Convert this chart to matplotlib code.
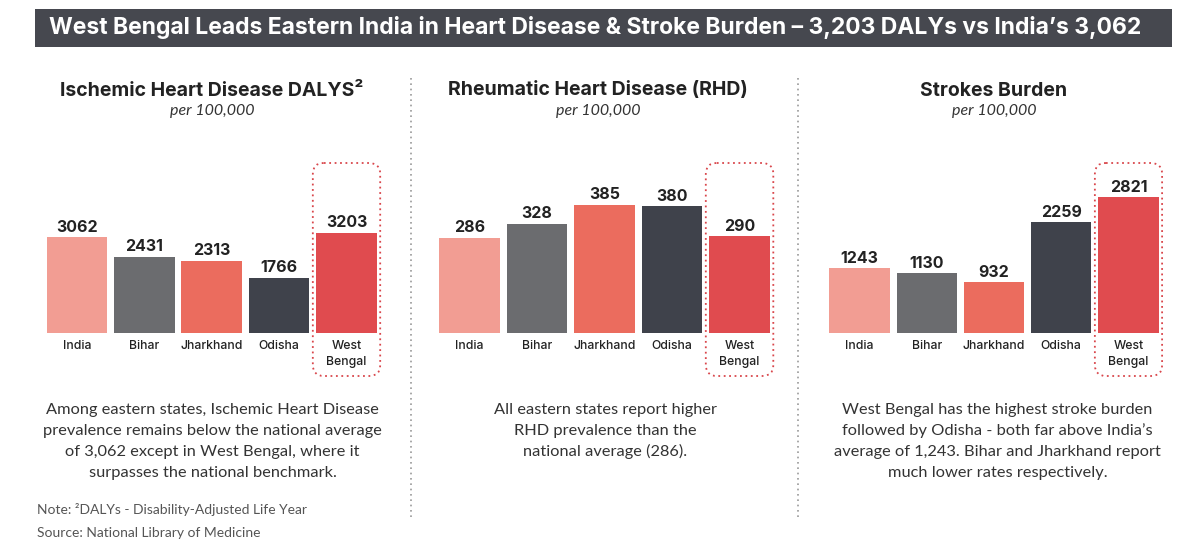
import matplotlib
matplotlib.use("Agg")
import matplotlib.pyplot as plt
from matplotlib.patches import Rectangle, FancyBboxPatch
import numpy as np

# ---------------- data ----------------
categories = ["India", "Bihar", "Jharkhand", "Odisha", "West\nBengal"]
ihd_values = [3062, 2431, 2313, 1766, 3203]
rhd_values = [286, 328, 385, 380, 290]
stroke_values = [1243, 1130, 932, 2259, 2821]

main_title = "West Bengal Leads Eastern India in Heart Disease & Stroke Burden \u2013 3,203 DALYs vs India\u2019s 3,062"
panel_titles = ["Ischemic Heart Disease DALYS\u00b2", "Rheumatic Heart Disease (RHD)", "Strokes Burden"]
panel_subtitle = "per 100,000"
panel_notes = [
    ["Among eastern states, Ischemic Heart Disease",
     "prevalence remains below the national average",
     "of 3,062 except in West Bengal, where it",
     "surpasses the national benchmark."],
    ["All eastern states report higher",
     "RHD prevalence than the",
     "national average (286)."],
    ["West Bengal has the highest stroke burden",
     "followed by Odisha - both far above India\u2019s",
     "average of 1,243. Bihar and Jharkhand report",
     "much lower rates respectively."],
]
footnote = "Note: \u00b2DALYs - Disability-Adjusted Life Year"
source = "Source: National Library of Medicine"

bar_colors = ["#F29D93", "#6B6C6F", "#EB6C5E", "#3F424B", "#E04B4F"]

# ---------------- layout (pixels) ----------------
W, H = 1200, 548
fig = plt.figure(figsize=(W / 100, H / 100), dpi=100)
fig.patch.set_facecolor("white")

deco = fig.add_axes([0, 0, 1, 1])
deco.set_xlim(0, W)
deco.set_ylim(H, 0)
deco.axis("off")

# title bar
deco.add_patch(Rectangle((35, 9), 1137, 38, facecolor="#46484F", edgecolor="none"))
deco.text(595, 34, main_title, color="white", fontsize=16.5, fontweight="bold",
          family="Inter", ha="center", va="baseline")

# separators
for sx in (411, 798):
    deco.plot([sx, sx], [78, 518], color="#9a9a9a", lw=1.2, ls=(0, (1, 2.2)))

panels = [
    dict(values=ihd_values, left=43.3, right=380.2, ylim=(0, 5431), base=0,
         cx=212, title=panel_titles[0], notes=panel_notes[0], ncx=212.5),
    dict(values=rhd_values, left=435.8, right=773.3, ylim=(0, 510), base=0,
         cx=598, title=panel_titles[1], notes=panel_notes[1], ncx=605),
    dict(values=stroke_values, left=825.9, right=1162.1, ylim=(-200, 3578), base=-200,
         cx=994, title=panel_titles[2], notes=panel_notes[2], ncx=997.5),
]

base_px, top_px = 333, 163

for p in panels:
    ax = fig.add_axes([p["left"] / W, (H - base_px) / H,
                       (p["right"] - p["left"]) / W, (base_px - top_px) / H])
    ax.patch.set_visible(False)
    x = np.arange(len(categories))
    vals = np.array(p["values"], dtype=float)
    ax.bar(x, vals - p["base"], bottom=p["base"], width=0.9, color=bar_colors)
    ax.set_xlim(-0.5, len(categories) - 0.5)
    ax.set_ylim(*p["ylim"])
    for xi, v in zip(x, p["values"]):
        ax.annotate(f"{v}", (xi, v), xytext=(0, 4), textcoords="offset points",
                    ha="center", va="baseline", fontsize=11.5, fontweight="bold",
                    family="Inter", color="#222222")
    ax.set_xticks(x)
    ax.set_xticklabels(categories, fontsize=8.8, family="Inter", fontweight="medium",
                       color="#222222", linespacing=1.45)
    ax.tick_params(axis="x", length=0, pad=5)
    ax.tick_params(axis="y", left=False, labelleft=False)
    for s in ax.spines.values():
        s.set_visible(False)

    # highlight box around the last bar (pixel layout)
    step = (p["right"] - p["left"]) / len(categories)
    bx = p["left"] + step * (len(categories) - 1)
    deco.add_patch(FancyBboxPatch((bx, 163), step, 213,
                                  boxstyle="round,pad=0,rounding_size=11",
                                  facecolor="none", edgecolor="#D9464B", lw=1.3,
                                  ls=(0, (1, 2))))

    # titles
    deco.text(p["cx"], 95.5, p["title"], ha="center", va="baseline", fontsize=14,
              fontweight="bold", family="Inter", color="#222222")
    deco.text(p["cx"], 115, panel_subtitle, ha="center", va="baseline", fontsize=11.5,
              style="italic", family="Lato", color="#333333")
    # notes
    for i, line in enumerate(p["notes"]):
        deco.text(p["ncx"], 414 + 21 * i, line, ha="center", va="baseline",
                  fontsize=11.8, family="Lato", color="#333333")

deco.text(37, 514, footnote, ha="left", va="baseline", fontsize=10, family="Lato",
          color="#555555")
deco.text(37, 537, source, ha="left", va="baseline", fontsize=10, family="Lato",
          color="#555555")

fig.savefig("out.png", dpi=100)
